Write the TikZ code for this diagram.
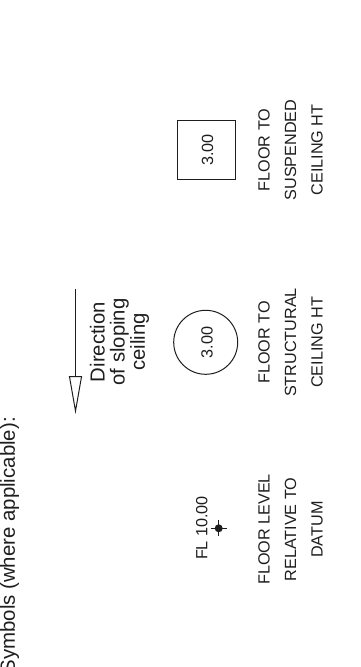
\documentclass[tikz,border=0pt]{standalone}
\usepackage{fontspec}
\setmainfont{Liberation Sans}
\usetikzlibrary{arrows.meta}
\definecolor{ink}{HTML}{1E1E1E}
\tikzset{
  lbl/.style={rotate=90,inner sep=0pt,align=center,text=ink,font=\fontsize{16.2}{26.5}\selectfont},
  dirlbl/.style={rotate=90,inner sep=0pt,align=center,text=ink,font=\fontsize{20.3}{20.2}\selectfont},
  val/.style={rotate=90,inner sep=0pt,text=ink,font=\fontsize{16.2}{19}\selectfont,anchor=base},
  sym/.style={draw=ink,line width=1pt},
  flow/.style={draw=ink,line width=1pt,-{Triangle[open,length=38pt,width=13pt,line width=1pt]}},
}
\begin{document}
\begin{tikzpicture}[x=1pt,y=-1pt]
\useasboundingbox (0,0) rectangle (360,667);
\node[rotate=90,inner sep=0pt,anchor=base east,text=ink,font=\fontsize{20.4}{23}\selectfont] (title) at (15,417) {Symbols (where applicable):};
% sloping ceiling arrow
\coordinate (arrowstart) at (75.5,289);
\coordinate (arrowtip) at (75.5,414);
\draw[flow] (arrowstart) -- (arrowtip);
\node[dirlbl] (dir) at (119.5,342) {Direction\\of sloping\\ceiling};
% structural ceiling
\node[sym,circle,minimum size=64pt,inner sep=0pt] (circ) at (205.7,342.3) {};
\node[val] (circval) at (212.7,342.5) {3.00};
\node[lbl] (lblb) at (290.5,342.5) {FLOOR TO\\STRUCTURAL\\CEILING HT};
% floor level
\node[val] (flval) at (207.3,528) {FL 10.00};
\node[circle,fill=ink,minimum size=8pt,inner sep=0pt] (flmark) at (218.7,528.3) {};
\coordinate (fltop) at (218.7,520.3);
\coordinate (flbot) at (218.7,536.3);
\coordinate (flleft) at (210.7,528.3);
\coordinate (flright) at (226.7,528.3);
\draw[sym] (fltop) -- (flbot);
\draw[sym] (flleft) -- (flright);
\node[lbl] (lbla) at (290.5,529.5) {FLOOR LEVEL\\RELATIVE TO\\DATUM};
% suspended ceiling
\node[sym,rectangle,minimum size=58.5pt,inner sep=0pt] (sq) at (206.6,149.9) {};
\node[val] (sqval) at (213,150) {3.00};
\node[lbl] (lblc) at (290.5,150) {FLOOR TO\\SUSPENDED\\CEILING HT};
\end{tikzpicture}
\end{document}
